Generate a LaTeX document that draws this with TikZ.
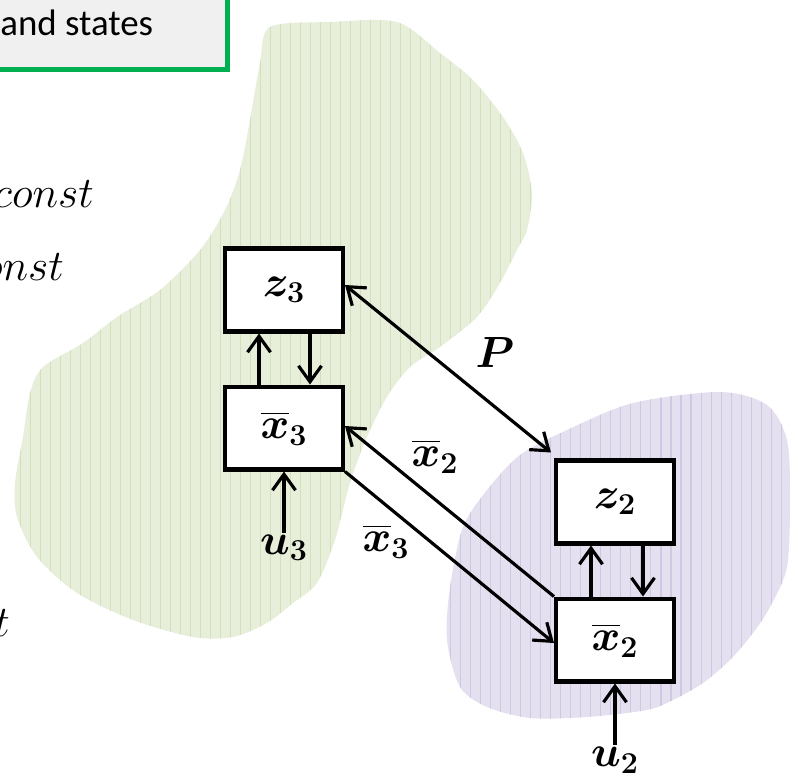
\documentclass[tikz,border=0pt]{standalone}
\usepackage{amsmath, amssymb, bm}
\usepackage{tikz}
\usetikzlibrary{arrows.meta, positioning, patterns.meta}
\usepackage{fontspec}
\setsansfont{Carlito}
\usepackage{xcolor}

\definecolor{boxgreen}{HTML}{00B050}
\definecolor{boxgrey}{HTML}{F0F0F0}
\definecolor{leaf}{RGB}{231,239,219}
\definecolor{leafline}{RGB}{210,225,188}
\definecolor{lilac}{RGB}{229,224,239}
\definecolor{lilacline}{RGB}{208,199,226}

\begin{document}
\begin{tikzpicture}[
    x=0.02cm, y=-0.02cm,
    node distance=1.02cm,
    block/.style={draw, line width=2.3pt, fill=white, minimum width=2.36cm, minimum height=1.66cm, inner sep=0pt, font=\fontsize{23}{27}\selectfont},
    lbl/.style={font=\fontsize{23}{27}\selectfont, inner sep=1pt},
    region/.style={fill=#1, postaction={pattern={Lines[angle=90, distance=5.7pt, line width=0.6pt]}, pattern color=#1line}},
    arrow/.style={-{Straight Barb[length=3.2mm, width=4.6mm]}, line width=1.8pt},
    twoway/.style={{Straight Barb[length=3.2mm, width=4.6mm]}-{Straight Barb[length=3.2mm, width=4.6mm]}, line width=1.8pt}
]
\useasboundingbox (0,0) rectangle (794,777);
\clip (0,0) rectangle (794,777);

% subsystem regions
\path[region=leaf] plot[smooth cycle, tension=0.5] coordinates {
    (270,27) (330,22) (397,22) (440,53) (473,80) (503,117) (523,153) (532,193)
    (527,230) (517,250) (500,283) (477,317) (440,347) (410,367) (387,397)
    (367,437) (350,483) (335,540) (317,583) (293,603) (267,623) (233,637)
    (193,637) (133,620) (77,593) (37,557) (17,517) (15,483) (23,437) (30,393)
    (43,367) (83,343) (117,317) (160,290) (200,250) (225,210) (240,170)
    (250,120) (260,63)};
\path[region=lilac] plot[smooth cycle, tension=0.5] coordinates {
    (463,527) (487,490) (520,455) (567,430) (633,403) (720,392) (767,405)
    (787,440) (790,500) (787,567) (770,607) (753,633) (730,660) (703,683)
    (673,700) (647,710) (587,717) (530,718) (487,707) (460,687) (447,640)
    (450,587)};

% cut-off slide text
\draw[line width=0.1cm, draw=boxgreen, fill=boxgrey] (-30,-30) rectangle (227,70);
\node[anchor=base west, inner sep=0pt, font=\sffamily\fontsize{21}{25}\selectfont] (states) at (0,36) {and states};
\node[lbl, anchor=base east] (cst1) at (96,207) {$const$};
\node[lbl, anchor=base east] (cst2) at (66,280) {$onst$};
\node[lbl, anchor=base east] (cst3) at (12,636) {$t$};

\node[block] (z3) at (284,290) {$\bm{z}_{\bm 3}$};
\node[block, below=of z3] (x3) {$\overline{\bm{x}}_{\bm 3}$};
\node[block] (z2) at (615,502) {$\bm{z}_{\bm 2}$};
\node[block, below=of z2] (x2) {$\overline{\bm{x}}_{\bm 2}$};

\node[lbl] (u3) at (284,548) {$\bm{u}_{\bm 3}$};
\node[lbl] (u2) at (615,760) {$\bm{u}_{\bm 2}$};
\node[lbl] (P) at (495,352) {$\bm{P}$};
\node[lbl] (lx2) at (435,456) {$\overline{\bm{x}}_{\bm 2}$};
\node[lbl] (lx3) at (386,541) {$\overline{\bm{x}}_{\bm 3}$};

\draw[arrow] ([xshift=-0.5cm]x3.north) -- ([xshift=-0.5cm]z3.south);
\draw[arrow] ([xshift=0.52cm]z3.south) -- ([xshift=0.52cm]x3.north);
\draw[arrow] ([xshift=-0.48cm]x2.north) -- ([xshift=-0.48cm]z2.south);
\draw[arrow] ([xshift=0.56cm]z2.south) -- ([xshift=0.56cm]x2.north);
\draw[arrow] (u3) -- (x3);
\draw[arrow] (u2) -- (x2);

\draw[twoway] ([yshift=0.1cm]z3.east) -- ([shift={(-0.06cm,0.12cm)}]z2.north west);
\draw[arrow] (x2.north west) -- ([yshift=0.04cm]x3.east);
\draw[arrow] (x3.south east) -- ([yshift=-0.06cm]x2.west);

\end{tikzpicture}
\end{document}
